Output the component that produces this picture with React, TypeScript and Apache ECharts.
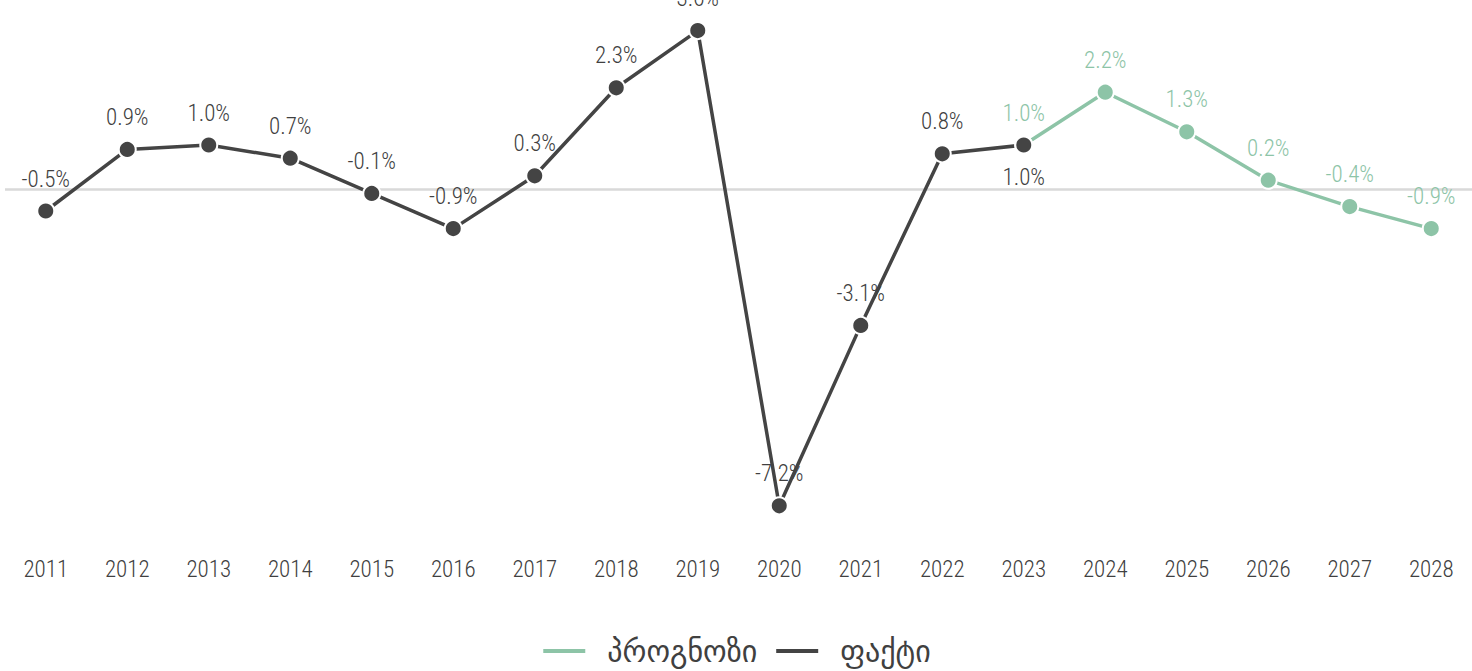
import React, { useEffect, useRef } from "react";
import * as echarts from "echarts";

const years = ["2011","2012","2013","2014","2015","2016","2017","2018","2019","2020","2021","2022","2023","2024","2025","2026","2027","2028"];
const factValues: (number | null)[] = [-0.5, 0.9, 1.0, 0.7, -0.1, -0.9, 0.3, 2.3, 3.6, -7.2, -3.1, 0.8, 1.0, null, null, null, null, null];
const forecastValues: (number | null)[] = [null, null, null, null, null, null, null, null, null, null, null, null, 1.0, 2.2, 1.3, 0.2, -0.4, -0.9];
const seriesNames = ["პროგნოზი", "ფაქტი"];
const belowLabelYear = "2023";

const DARK = "#444444";
const GREEN = "#8dc4a7";
const FONT = "'Roboto Condensed', 'DejaVu Sans Condensed', sans-serif";

export default function App() {
  const ref = useRef<HTMLDivElement>(null);
  useEffect(() => {
    if (!ref.current) return;
    const chart = echarts.init(ref.current, null, { renderer: "svg" });
    const fmt = (p: any) => (p.value == null ? "" : Number(p.value).toFixed(1) + "%");
    const factData = factValues.map((v, i) =>
      years[i] === belowLabelYear ? { value: v, label: { position: "bottom" } } : v
    );
    chart.setOption({
      animation: false,
      backgroundColor: "#ffffff",
      grid: { left: 5, right: 0, top: 13, bottom: 130, containLabel: false },
      legend: {
        data: seriesNames,
        bottom: 0,
        left: "center",
        icon: "rect",
        itemWidth: 44,
        itemHeight: 6,
        itemGap: 17,
        textStyle: { fontFamily: "'DejaVu Sans', sans-serif", fontSize: 30, color: "#404040", padding: [0, 0, 0, 16] },
      },
      xAxis: {
        type: "category",
        data: years,
        boundaryGap: true,
        axisLine: { show: false },
        axisTick: { show: false },
        axisLabel: { fontFamily: FONT, fontWeight: 300, fontSize: 23, color: "#404040", margin: 17 },
      },
      yAxis: {
        type: "value",
        min: -8,
        max: 4,
        interval: 4,
        axisLabel: { show: false },
        axisLine: { show: false },
        axisTick: { show: false },
        splitLine: {
          show: true,
          lineStyle: { color: ["rgba(0,0,0,0)", "rgba(0,0,0,0)", "#d9d9d9", "rgba(0,0,0,0)"], width: 2.5 },
        },
      },
      series: [
        {
          name: seriesNames[0],
          type: "line",
          data: forecastValues,
          symbol: "circle",
          symbolSize: 17,
          lineStyle: { color: GREEN, width: 3.5 },
          itemStyle: { color: GREEN, borderColor: "#ffffff", borderWidth: 2 },
          label: {
            show: true,
            position: "top",
            distance: 11,
            formatter: fmt,
            fontFamily: FONT,
            fontWeight: 300,
            fontSize: 23,
            color: GREEN,
          },
        },
        {
          name: seriesNames[1],
          type: "line",
          data: factData,
          symbol: "circle",
          symbolSize: 17,
          lineStyle: { color: DARK, width: 3.5 },
          itemStyle: { color: DARK, borderColor: "#ffffff", borderWidth: 2 },
          label: {
            show: true,
            position: "top",
            distance: 11,
            formatter: fmt,
            fontFamily: FONT,
            fontWeight: 300,
            fontSize: 23,
            color: "#404040",
          },
        },
      ],
    });
    return () => chart.dispose();
  }, []);
  return (
    <div
      ref={ref}
      style={{ position: "fixed", left: 0, top: 0, width: 1472, height: 671, background: "#fff" }}
    />
  );
}
